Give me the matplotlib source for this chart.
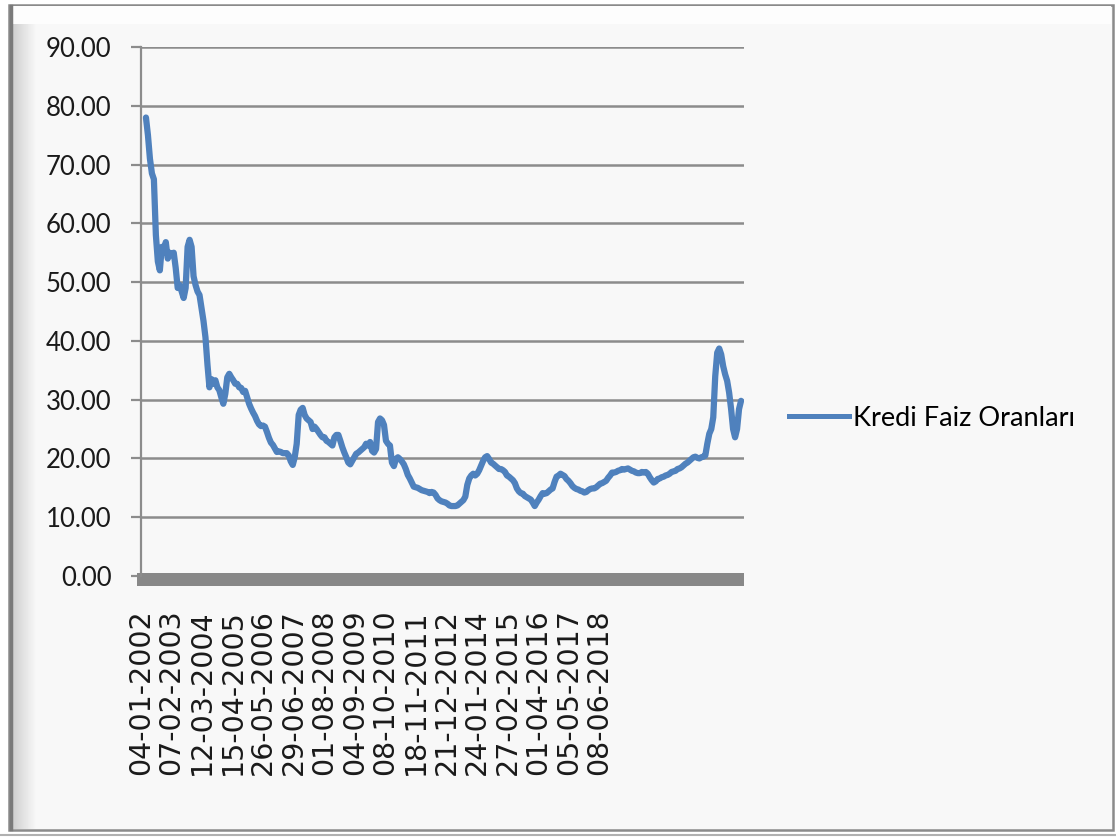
import numpy as np
import matplotlib
matplotlib.use("Agg")
import matplotlib.pyplot as plt
from matplotlib.patches import Rectangle
from matplotlib.lines import Line2D

# ---- data (roughly equally spaced in time, 2002 -> 2019) ----
series_name = "Kredi Faiz Oranları"
rates = [
    78, 75, 71, 68.5, 67.5, 58, 53.5, 52, 56, 55, 56.8, 54, 55, 54.6, 55, 52.4, 49, 49.5, 48.4, 47.3,
    49, 56, 57.2, 56, 51, 49.5, 48.4, 47.8, 45.6, 43.4, 40.6, 36, 32.1, 33.5, 32.7, 33.3, 32.1, 31.6, 30.4, 29.3,
    31, 33.8, 34.4, 33.8, 33.3, 32.7, 32.7, 32.1, 32, 31.3, 31.5, 30.4, 29.3, 28.5, 27.8, 27.2, 26.4, 25.8, 25.5, 25.6,
    25.4, 24.5, 23.5, 22.7, 22.3, 21.7, 21.1, 21.2, 21.1, 20.9, 20.9, 20.9, 20.5, 19.5, 18.9, 20.2, 22.5, 27.4, 28.3, 28.6,
    27.4, 26.8, 26.5, 26.2, 25, 25.4, 25, 24.5, 24, 23.6, 23.6, 23, 22.8, 22.5, 22.2, 23.6, 24, 24, 23, 21.9,
    21, 20.2, 19.3, 19, 19.6, 20.2, 20.8, 21, 21.3, 21.6, 21.9, 22.5, 22.2, 22.8, 21.3, 21, 21.6, 26.2, 26.8, 26.5,
    25.7, 23, 22.5, 22.2, 19.3, 18.7, 19.9, 20.2, 19.9, 19.5, 19, 18.2, 17.2, 16.6, 15.9, 15.2, 15.1, 15, 14.8, 14.6,
    14.5, 14.4, 14.3, 14.1, 14.3, 14.2, 13.8, 13.2, 12.9, 12.7, 12.6, 12.5, 12.3, 12, 11.9, 11.9, 11.9, 12, 12.3, 12.6,
    12.9, 13.5, 15.5, 16.6, 17.1, 17.4, 17.1, 17.4, 18, 18.8, 19.6, 20.2, 20.4, 19.9, 19.3, 19.1, 18.8, 18.5, 18.2, 18.2,
    18, 17.7, 17.1, 16.9, 16.6, 16.3, 15.8, 14.9, 14.4, 14.1, 14, 13.6, 13.4, 13.2, 13, 12.5, 11.9, 12.5, 13, 13.6,
    14.1, 14, 14.1, 14.4, 14.7, 14.9, 16, 16.9, 17.1, 17.4, 17.2, 17, 16.5, 16.2, 15.8, 15.3, 15, 14.8, 14.7, 14.5,
    14.4, 14.2, 14.3, 14.6, 14.8, 14.9, 14.9, 15.1, 15.4, 15.7, 15.8, 16, 16.2, 16.7, 17.1, 17.6, 17.6, 17.7, 17.9, 18,
    18.2, 18.1, 18.2, 18.3, 18.1, 17.9, 17.8, 17.6, 17.5, 17.5, 17.7, 17.6, 17.7, 17.4, 16.8, 16.3, 15.9, 16.1, 16.5, 16.6,
    16.8, 16.9, 17.1, 17.2, 17.4, 17.7, 17.8, 17.9, 18.2, 18.3, 18.5, 18.8, 19.1, 19.3, 19.6, 19.9, 20.2, 20.3, 20.1, 20,
    20.2, 20.3, 20.5, 22.5, 24.2, 25, 27, 34, 38, 38.7, 37.7, 35.7, 34.3, 33.2, 31.2, 28.4, 25, 23.6, 25, 28.4,
    29.8,
]
date_labels = [
    "04-01-2002", "07-02-2003", "12-03-2004", "15-04-2005", "26-05-2006", "29-06-2007",
    "01-08-2008", "04-09-2009", "08-10-2010", "18-11-2011", "21-12-2012", "24-01-2014",
    "27-02-2015", "01-04-2016", "05-05-2017", "08-06-2018",
]
y_ticks = [0, 10, 20, 30, 40, 50, 60, 70, 80, 90]

# ---- figure ----
W, H = 1116, 838
fig = plt.figure(figsize=(W / 100, H / 100), dpi=100, facecolor="white")

# background panel with frame
bg = fig.add_axes([0, 0, 1, 1], zorder=-10)
bg.set_xlim(0, W)
bg.set_ylim(H, 0)
bg.axis("off")
bg.add_patch(Rectangle((9, 5), 1104, 825, facecolor="#f8f8f8", edgecolor="#8a8a8a", lw=1.8))
# left bevel
grad = np.linspace(0.80, 0.97, 40)[None, :]
bg.imshow(np.repeat(grad, 2, axis=0), extent=(11, 36, 829, 7), cmap="gray", vmin=0, vmax=1,
          aspect="auto", zorder=1)
# top light band
bg.add_patch(Rectangle((11, 6), 1100, 18, facecolor="#fdfdfd", edgecolor="none", zorder=1))
bg.plot([11, 11], [6, 829], color="#7a7a7a", lw=2.5, zorder=2)
bg.plot([0, W], [835, 835], color="#b0b0b0", lw=1.5, zorder=2)

# main axes
left_px, right_px, top_px, bot_px = 141, 744, 47, 576
ax = fig.add_axes([left_px / W, 1 - bot_px / H, (right_px - left_px) / W, (bot_px - top_px) / H])
ax.set_facecolor("none")

x = np.arange(len(rates))
ax.plot(x, rates, color="#4F81BD", lw=4.5, solid_joinstyle="round", solid_capstyle="round", zorder=3)

n_span = (right_px - left_px) / 2.0  # axis width expressed in data steps
ax.set_xlim(0, n_span)
ax.set_ylim(0, 90)

grid_c = "#8c8c8c"
ax.set_yticks(y_ticks)
ax.set_yticklabels([f"{v:.2f}" for v in y_ticks], fontfamily="Lato", fontsize=18.5, color="#1a1a1a")
ax.yaxis.grid(True, color=grid_c, lw=1.8)
ax.set_axisbelow(True)
ax.tick_params(axis="y", direction="out", length=7.2, width=1.6, color=grid_c, pad=14)

label_step = 15.4
ax.set_xticks([-2.5 + k * label_step for k in range(len(date_labels))])
ax.set_xticklabels(date_labels, rotation=90, fontfamily="DejaVu Sans", fontsize=20.5, color="#1a1a1a")
ax.tick_params(axis="x", length=0, pad=24)

for s in ["top", "right", "bottom"]:
    ax.spines[s].set_visible(False)
ax.spines["left"].set_color(grid_c)
ax.spines["left"].set_linewidth(1.6)

# thick grey category axis bar
ax.add_patch(Rectangle((-4 / (right_px - left_px), -1.75), 1 + 4 / (right_px - left_px), 2.25,
                       transform=ax.get_yaxis_transform(), facecolor="#888888", edgecolor="none",
                       clip_on=False, zorder=2))

# legend
handle = Line2D([], [], color="#4F81BD", lw=3.6)
fig.legend([handle], [series_name], loc="center left", bbox_to_anchor=(789 / W, 1 - 418 / H),
           frameon=False, borderpad=0, borderaxespad=0, handlelength=2.2, handletextpad=0.15,
           prop={"family": "Lato", "size": 19.5})

fig.savefig("out.png", dpi=100, facecolor=fig.get_facecolor())
